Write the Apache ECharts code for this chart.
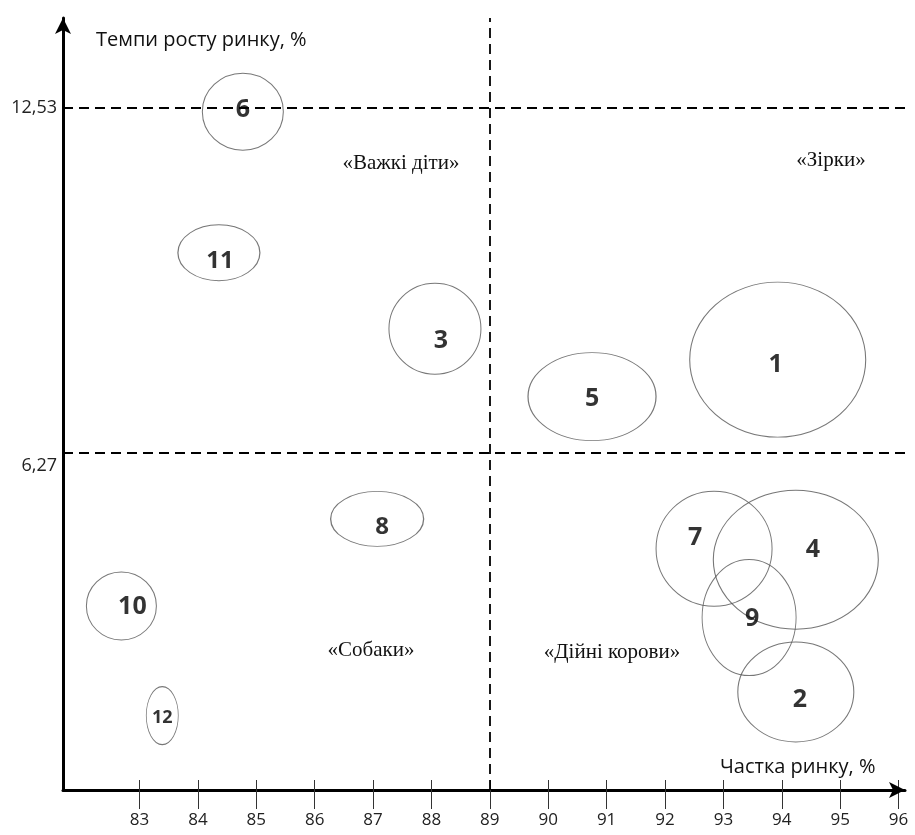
<!DOCTYPE html>
<html><head><meta charset="utf-8">
<script src="https://cdn.jsdelivr.net/npm/echarts@6/dist/echarts.min.js"></script>
<style>html,body{margin:0;padding:0;background:#fff}#c{width:915px;height:835px}</style>
</head><body><div id="c"></div>
<script>
// ---- data ----
const names = ['1','2','3','4','5','6','7','8','9','10','11','12'];
const marketShare = [93.93, 94.24, 88.06, 94.24, 90.75, 84.77, 92.84, 87.07, 93.44, 82.69, 84.36, 83.39];
const marketGrowth = [7.96, 1.93, 8.52, 4.33, 7.29, 12.46, 4.53, 5.07, 3.28, 3.49, 9.90, 1.50];
const xTicks = [83,84,85,86,87,88,89,90,91,92,93,94,95,96];
const yTicks = [6.27, 12.53];
const xDivider = 89;
const yDividers = [12.53, 6.27];

// ---- styles (pixel sizes of the ellipses, label nudges, label sizes) ----
const bubbleW = [176, 116, 92, 165, 128, 81, 116, 93, 94, 70, 82, 32];
const bubbleH = [155, 100, 91, 139, 88, 77, 115, 55, 116, 68, 56, 58];
const labelNudge = [[-2,5],[4,8],[6,12],[17,-10],[0,2],[0,-2],[-19,-11],[5,8],[3,1],[11,1],[1,8],[0,2]];
const labelSize = [25,25,25,25,25,25,25,24,25,25,24,18];

const ellipse = 'path://M0,50 A50,50 0 1,1 100,50 A50,50 0 1,1 0,50 Z';
const sans = '"Open Sans", Lato, sans-serif';
const serif = '"Liberation Serif", "DejaVu Serif", serif';

const chart = echarts.init(document.getElementById('c'), null, {renderer:'canvas'});
const xMin = 81.69, xMax = 96.11, yMin = 0.15, yMax = 14.16;

const data = names.map((n,i)=>({
  value:[marketShare[i], marketGrowth[i]],
  name:n,
  symbolSize:[bubbleW[i], bubbleH[i]],
  label:{offset:labelNudge[i], fontSize:labelSize[i]}
}));

function txt(x, y, s, font, align){
  return {type:'text', x:x, y:y, style:{text:s, font:font, fill:'#111', align:align, verticalAlign:'middle'}};
}

chart.setOption({
  backgroundColor:'#fff',
  animation:false,
  grid:{left:63, right:10, top:18, bottom:45},
  xAxis:[{
    type:'value', min:xMin, max:xMax,
    axisLine:{show:true, symbol:['none','arrow'], symbolSize:[12,16], lineStyle:{color:'#000', width:3}},
    axisTick:{show:true, customValues:xTicks, length:19, lineStyle:{color:'#333', width:1}},
    axisLabel:{customValues:xTicks, margin:22, fontSize:17, fontFamily:sans, color:'#222'},
    splitLine:{show:false}
  },{
    type:'value', min:xMin, max:xMax, position:'bottom',
    axisLine:{show:false},
    axisTick:{show:true, inside:true, customValues:xTicks, length:10, lineStyle:{color:'#333', width:1}},
    axisLabel:{show:false},
    splitLine:{show:false}
  }],
  yAxis:{
    type:'value', min:yMin, max:yMax,
    axisLine:{show:true, symbol:['none','arrow'], symbolSize:[12,16], lineStyle:{color:'#000', width:3}},
    axisTick:{show:false},
    axisLabel:{customValues:yTicks, margin:6, fontSize:18, fontFamily:sans, color:'#222',
      formatter:v=>{const s=v.toFixed(2).replace('.',','); return v<10?'{low|'+s+'}':s;},
      rich:{low:{fontSize:18, fontFamily:sans, color:'#222', padding:[26,0,0,0]}}},
    splitLine:{show:false}
  },
  graphic:[
    txt(96, 40, 'Темпи росту ринку, %', '20px '+sans, 'left'),
    txt(720, 767, 'Частка ринку, %', '20px '+sans, 'left'),
    txt(401, 163, '«Важкі діти»', '21px '+serif, 'center'),
    txt(831, 160, '«Зірки»', '21px '+serif, 'center'),
    txt(371, 650, '«Собаки»', '21px '+serif, 'center'),
    txt(612, 652, '«Дійні корови»', '21px '+serif, 'center')
  ],
  series:[{
    type:'scatter',
    symbol:ellipse,
    data:data,
    itemStyle:{color:'rgba(0,0,0,0)', borderColor:'#555', borderWidth:1},
    label:{show:true, position:'inside', formatter:'{b}', fontWeight:'bold', fontFamily:sans, color:'#000'},
    markLine:{
      silent:true, symbol:['none','none'],
      lineStyle:{type:[10,6], width:1.8, color:'#000'},
      label:{show:false},
      data:[{yAxis:yDividers[0]},{yAxis:yDividers[1]},{xAxis:xDivider}]
    }
  }]
});
</script></body></html>
